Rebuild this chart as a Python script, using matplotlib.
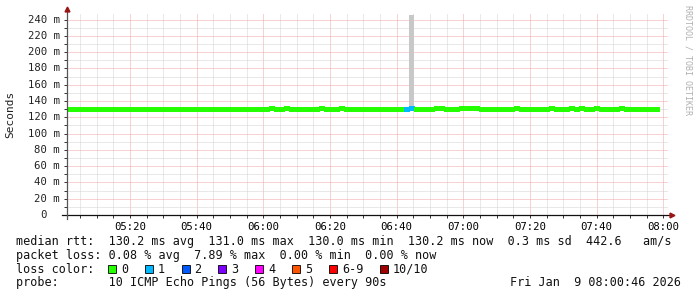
import matplotlib
matplotlib.use("Agg")
import matplotlib.pyplot as plt
from matplotlib.patches import Rectangle

W, H = 697, 297
FONT = "DejaVu Sans Mono"

# ----------- Data (minutes since 05:00, one sample every 90 s) -----------
sample_start = 0.2
sample_step = 1.5
median_rtt = [
    130.2, 130.2, 130.2, 130.2, 130.2, 130.2, 130.2, 130.2, 130.2, 130.2,
    130.2, 130.2, 130.2, 130.2, 130.2, 130.2, 130.2, 130.2, 129.7, 130.2,
    130.2, 130.2, 130.2, 130.2, 130.2, 129.7, 130.2, 130.2, 130.2, 130.2,
    130.2, 130.2, 130.2, 130.2, 130.2, 130.2, 130.2, 130.2, 130.2, 130.2,
    130.2, 130.8, 130.2, 130.2, 130.8, 130.2, 130.2, 130.2, 130.2, 130.2,
    130.2, 130.8, 130.2, 130.2, 130.2, 130.8, 130.2, 130.2, 130.2, 130.2,
    130.2, 130.2, 130.2, 130.2, 130.2, 130.2, 130.2, 130.2, 130.2, 130.9,
    130.2, 130.2, 130.2, 130.2, 130.8, 130.8, 130.2, 130.2, 130.2, 130.8,
    130.8, 130.8, 130.8, 130.2, 130.2, 130.2, 130.2, 130.2, 130.2, 130.2,
    130.8, 130.2, 130.2, 130.2, 130.2, 130.2, 130.2, 130.8, 130.2, 130.2,
    130.2, 130.8, 129.7, 130.8, 130.2, 130.2, 130.8, 130.2, 130.2, 130.2,
    130.2, 130.8, 130.2, 130.2, 130.2, 130.2, 130.2, 130.2, 130.2,
]
lost_pings = [0] * 119
lost_pings[68] = 1
lost_pings[69] = 1

# the only sample with visible smoke
smoke_sample = 69
smoke_pings = [130.6, 131.0, 131.2, 131.4, 131.6, 131.8, 132.0, 132.6, 246.0]

loss_labels = ["0", "1", "2", "3", "4", "5", "6-9", "10/10"]
loss_colors = ["#26ff00", "#00b8ff", "#0059ff", "#7e00ff",
               "#ff00ff", "#ff5500", "#ff0000", "#a10000"]
loss_bins = [0, 1, 2, 3, 4, 5, 6, 10]

x_ticks = [20, 40, 60, 80, 100, 120, 140, 160, 180]
x_labels = ["05:20", "05:40", "06:00", "06:20", "06:40",
            "07:00", "07:20", "07:40", "08:00"]
y_ticks = [0, 20, 40, 60, 80, 100, 120, 140, 160, 180, 200, 220, 240]

rtt = dict(avg=130.2, max=131.0, min=130.0, now=130.2, sd=0.3, ams=442.6)
loss = dict(avg=0.08, max=7.89, min=0.00, now=0.00)
probe_text = "10 ICMP Echo Pings (56 Bytes) every 90s"
stamp = "Fri Jan  9 08:00:46 2026"


def loss_color(n):
    idx = 0
    for i, b in enumerate(loss_bins):
        if n >= b:
            idx = i
    return loss_colors[idx]


# ----------- Figure -----------
fig = plt.figure(figsize=(W / 100, H / 100), dpi=100)
fig.patch.set_facecolor("white")
left, right, top, bottom = 67, 668, 13, 215
ax = fig.add_axes([left / W, 1 - bottom / H, (right - left) / W, (bottom - top) / H])
ax.set_xlim(1.1, 181.4)
ax.set_ylim(0, 248)
for s in ax.spines.values():
    s.set_visible(False)

# dotted grid
ax.set_xticks(x_ticks)
ax.set_xticks([m for m in range(5, 185, 5) if m not in x_ticks], minor=True)
ax.set_yticks(y_ticks)
ax.set_yticks(list(range(10, 250, 20)), minor=True)
ax.grid(which="minor", color="#d2d2d2", linestyle=(0, (1, 1)), linewidth=0.72)
ax.grid(which="major", color="#f2a6a6", linestyle=(0, (1, 1)), linewidth=0.72)
ax.set_axisbelow(True)
ax.set_xticklabels(x_labels, fontsize=7.7, family=FONT)
ax.set_yticklabels([])
ax.tick_params(which="both", direction="out", length=2.2, width=0.7, color="#333333", pad=3)

# y labels drawn by hand so "0" lines up with the digits above it
for v in y_ticks:
    txt = f"{v} m" if v else "0"
    xr = (60 - left) / (right - left) if v else (47 - left) / (right - left)
    ax.text(xr, v, txt, transform=ax.get_yaxis_transform(), ha="right", va="center",
            fontsize=7.7, family=FONT, color="#222222")

# smoke
t0 = sample_start + smoke_sample * sample_step
for i in range(len(smoke_pings) - 1):
    shade = "#c8c8c8" if i == len(smoke_pings) - 2 else "#8a8a8a"
    ax.fill_between([t0, t0 + sample_step], smoke_pings[i], smoke_pings[i + 1],
                    color=shade, linewidth=0)

# median line, coloured by loss: one step line per run of equal colour
runs = []
for i, v in enumerate(median_rtt):
    c = loss_color(lost_pings[i])
    if not runs or runs[-1][0] != c:
        runs.append([c, []])
    runs[-1][1].append(i)
for c, idx in runs:
    xs = [sample_start + i * sample_step for i in idx] + [sample_start + (idx[-1] + 1) * sample_step]
    ys = [median_rtt[i] for i in idx] + [median_rtt[idx[-1]]]
    ax.plot(xs, ys, drawstyle="steps-post", color=c, linewidth=2.3,
            solid_capstyle="butt", antialiased=False)

# axes lines and arrows
ax.plot([-5 / 601, 1 + 2 / 601], [0, 0], color="#111111", lw=0.9, transform=ax.transAxes, clip_on=False)
ax.plot([0, 0], [-4 / 202, 1 + 2 / 202], color="#555555", lw=0.9, transform=ax.transAxes, clip_on=False)
ax.plot([1 + 4 / 601], [0], marker=">", ms=3.5, color="#9b1515", transform=ax.transAxes, clip_on=False)
ax.plot([0], [1 + 4 / 202], marker="^", ms=3.5, color="#9b1515", transform=ax.transAxes, clip_on=False)

fig.text(10 / W, 1 - 114 / H, "Seconds", rotation=90, ha="center", va="center",
         fontsize=8, family=FONT, color="#222222")
fig.text(688 / W, 1 - 60 / H, "RRDTOOL / TOBI OETIKER", rotation=270, ha="center", va="center",
         fontsize=6, family=FONT, color="#b0b0b0")

# ----------- Legend text -----------
lines = [
    f"median rtt:  {rtt['avg']:.1f} ms avg  {rtt['max']:.1f} ms max  {rtt['min']:.1f} ms min  "
    f"{rtt['now']:.1f} ms now  {rtt['sd']:.1f} ms sd  {rtt['ams']:.1f}   am/s",
    f"packet loss: {loss['avg']:.2f} % avg  {loss['max']:.2f} % max  {loss['min']:.2f} % min  "
    f"{loss['now']:.2f} % now",
    "loss color:",
    f"probe:       {probe_text}",
]
baselines = [245, 259, 273, 286]
for txt, yb in zip(lines, baselines):
    fig.text(16 / W, 1 - yb / H, txt, ha="left", va="baseline", fontsize=8.5, family=FONT, color="#111111")
fig.text(681 / W, 1 - 286 / H, stamp, ha="right", va="baseline", fontsize=8.5, family=FONT, color="#111111")

bx = 108.0
for lab, col in zip(loss_labels, loss_colors):
    fig.add_artist(Rectangle((bx / W, 1 - 273 / H), 8 / W, 8 / H, transform=fig.transFigure,
                             facecolor=col, edgecolor="black", linewidth=0.6))
    fig.text((bx + 13) / W, 1 - 273 / H, lab, ha="left", va="baseline", fontsize=8.5,
             family=FONT, color="#111111")
    bx += 13 + 7.1 * len(lab) + 16.7

fig.savefig("out.png", dpi=100, facecolor="white")
